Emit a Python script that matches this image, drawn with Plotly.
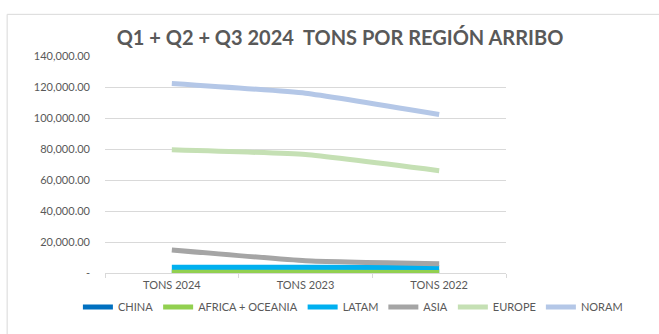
import plotly.graph_objects as go

# ── Data ─────────────────────────────────────────────────────────────────────
categories = ["TONS 2024", "TONS 2023", "TONS 2022"]

china   = [250, 250, 250]
africa  = [1000, 1000, 1000]
latam   = [3700, 3700, 3600]
asia    = [14900, 7900, 5900]
europe  = [79500, 76400, 66000]
noram   = [122300, 116000, 102300]

series = [
    ("CHINA", china, "#0070C0"),
    ("AFRICA + OCEANIA", africa, "#92D050"),
    ("LATAM", latam, "#00B0F0"),
    ("ASIA", asia, "#A5A5A5"),
    ("EUROPE", europe, "#C5E0B4"),
    ("NORAM", noram, "#B4C7E7"),
]

y_ticks = [0, 20000, 40000, 60000, 80000, 100000, 120000, 140000]
y_labels = ["-"] + [f"{v:,.2f}" for v in y_ticks[1:]]

FONT = "Lato, sans-serif"
GREY = "#595959"

fig = go.Figure()
for name, vals, color in series:
    fig.add_trace(go.Scatter(
        x=categories, y=vals, mode="lines", name=name,
        line=dict(color=color, width=5, shape="spline", smoothing=0.4),
    ))

fig.update_layout(
    width=659, height=334,
    paper_bgcolor="white", plot_bgcolor="white",
    margin=dict(l=105, r=153, t=56, b=49),
    font=dict(family=FONT, color=GREY, size=11),
    title=dict(
        text="<b>Q1 + Q2 + Q3 2024  TONS POR REGIÓN ARRIBO</b>",
        x=340 / 659, xref="container", xanchor="center",
        y=1 - 38 / 334, yref="container", yanchor="middle",
        font=dict(family=FONT, size=20, color=GREY),
    ),
    xaxis=dict(
        range=[-0.5, 2.5],
        showgrid=False, tickson="boundaries", ticks="outside", ticklen=4,
        tickcolor="#d9d9d9", showline=True, linecolor="#d9d9d9", linewidth=1,
        tickfont=dict(size=11, color=GREY), ticklabelstandoff=2,
    ),
    yaxis=dict(
        range=[0, 140000], tickvals=y_ticks, ticktext=y_labels,
        showgrid=True, gridcolor="#d9d9d9", gridwidth=1, zeroline=False,
        tickfont=dict(size=11, color=GREY), ticklabelstandoff=14,
    ),
    legend=dict(
        orientation="h", x=1.304, xanchor="right", y=-0.157, yanchor="middle",
        font=dict(size=11, color=GREY), itemwidth=30, tracegroupgap=0,
        bgcolor="rgba(0,0,0,0)",
    ),
    showlegend=True,
)

# chart area frame (runs off the right/bottom edge like the original)
fig.add_shape(
    type="rect", xref="paper", yref="paper",
    x0=-0.244, x1=1.6, y0=-0.4, y1=1.192,
    line=dict(color="#d9d9d9", width=1), layer="below",
)

fig.write_html("out.html", config={"displayModeBar": False},
               post_script="document.body.style.margin='0';")
